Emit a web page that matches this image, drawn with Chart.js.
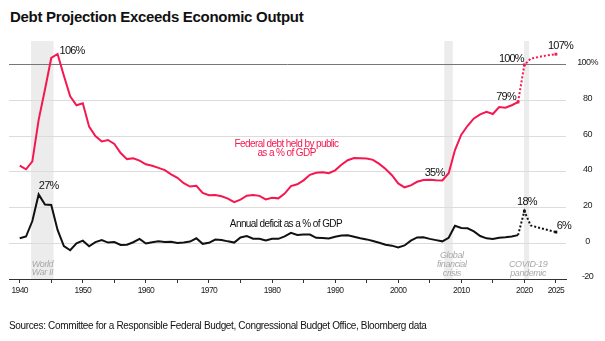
<!DOCTYPE html>
<html><head><meta charset="utf-8">
<script src="https://cdn.jsdelivr.net/npm/chart.js@4/dist/chart.umd.min.js"></script>
<style>
html,body{margin:0;padding:0;background:#fff;width:605px;height:341px;overflow:hidden;}
#wrap{position:relative;width:605px;height:341px;}
#c{position:absolute;left:0;top:0;width:605px;height:341px;}
.title{position:absolute;left:10px;top:9px;font:bold 15px 'Liberation Sans',Arial,sans-serif;line-height:15px;letter-spacing:-0.3px;color:#111;white-space:nowrap;}
.src{position:absolute;left:9px;top:321px;font:10px 'Liberation Sans',Arial,sans-serif;line-height:10px;letter-spacing:-0.35px;color:#111;white-space:nowrap;}
</style></head>
<body><div id="wrap">
<div class="title">Debt Projection Exceeds Economic Output</div>
<canvas id="c" width="605" height="341"></canvas>
<div class="src">Sources: Committee for a Responsible Federal Budget, Congressional Budget Office, Bloomberg data</div>
</div>
<script>
// ---- data ----
const years = [1940,1941,1942,1943,1944,1945,1946,1947,1948,1949,1950,1951,1952,1953,1954,1955,1956,1957,1958,1959,
1960,1961,1962,1963,1964,1965,1966,1967,1968,1969,1970,1971,1972,1973,1974,1975,1976,1977,1978,1979,
1980,1981,1982,1983,1984,1985,1986,1987,1988,1989,1990,1991,1992,1993,1994,1995,1996,1997,1998,1999,
2000,2001,2002,2003,2004,2005,2006,2007,2008,2009,2010,2011,2012,2013,2014,2015,2016,2017,2018,2019];
const debtActual = [43.6,41.5,45.9,69.2,86.2,103.9,106.1,93.9,82.4,77.4,78.5,65.4,60.1,57.1,57.9,55.7,50.6,47.2,47.7,46.4,
44.3,43.5,42.3,41.0,38.7,36.7,33.7,31.8,32.2,28.3,27.0,27.1,26.4,25.1,23.1,24.5,26.7,27.1,26.6,24.6,
25.5,25.2,27.9,32.1,33.1,35.3,38.4,39.5,39.8,39.3,40.9,44.0,46.6,47.8,47.7,47.5,46.8,44.5,41.6,38.2,
33.6,31.4,32.5,34.5,35.5,35.6,35.3,35.2,39.3,52.3,60.9,65.9,70.0,72.3,73.7,72.5,76.4,76.0,77.4,79.2];
const deficitActual = [2.8,3.8,12.5,27.4,21.7,21.5,7.5,-1.5,-3.9,0.0,1.5,-1.7,0.7,1.8,0.4,0.7,-0.9,-0.8,0.6,2.5,
-0.1,0.6,1.2,0.8,0.9,0.2,0.5,1.0,2.8,-0.3,0.3,2.1,1.9,1.1,0.4,3.3,4.1,2.6,2.6,1.6,
2.6,2.5,3.9,5.9,4.7,5.0,4.9,3.1,3.0,2.7,3.7,4.4,4.5,3.7,2.8,2.2,1.3,0.3,-0.8,-1.3,
-2.3,-1.2,1.5,3.3,3.4,2.5,1.8,1.1,3.1,9.8,8.6,8.4,6.7,4.1,2.8,2.4,3.1,3.4,3.8,4.6];
const debtProjYears = [2019,2020,2021,2023,2025];
const debtProj = [79.2,100,103.5,105,106];
const deficitProjYears = [2019,2020,2021,2025];
const deficitProj = [4.6,18,10,6.3];
const yTicks = [-20,0,20,40,60,80,100];
const xLabelYears = [1940,1950,1960,1970,1980,1990,2000,2010,2020,2025];
const bands = [[1941.8,1945.35],[2007.3,2008.65],[2019.95,2020.75]];

const RED = '#f5174f';
const FONT = "'Liberation Sans', Arial, sans-serif";
const pts = (xs, ys) => xs.map((x,i)=>({x, y: ys[i]}));

const textPlugin = {
  id: 'texts',
  beforeDraw(chart){
    const {ctx, chartArea:a, scales:{x}} = chart;
    ctx.save();
    ctx.fillStyle = '#ececec';
    bands.forEach(([s,e])=>{
      const x0 = x.getPixelForValue(s), x1 = x.getPixelForValue(e);
      ctx.fillRect(x0, a.top, x1-x0, a.bottom-a.top);
    });
    ctx.restore();
    ctx.letterSpacing = '-0.6px';
  },
  afterDatasetsDraw(chart){
    const {ctx, scales:{x,y}} = chart;
    const T = (txt, xv, yv, dx, dy, font, color, ls) => {
      ctx.save();
      ctx.font = font; ctx.fillStyle = color; ctx.letterSpacing = ls || '-0.6px';
      ctx.textAlign = 'center'; ctx.textBaseline = 'middle';
      ctx.fillText(txt, x.getPixelForValue(xv)+dx, y.getPixelForValue(yv)+dy);
      ctx.restore();
    };
    const num = '11px ' + FONT;
    T('106%', 1946, 106.1, 14.5, -3, num, '#111', '-0.8px');
    T('27%', 1943, 27.4, 10, -8, num, '#111', '-0.8px');
    T('35%', 2006, 35.3, -1.5, -7.5, num, '#111', '-0.8px');
    T('79%', 2019, 79.2, -12, -5, num, '#111', '-0.8px');
    T('100%', 2020, 100, -13, -6, num, '#111', '-0.8px');
    T('107%', 2025, 106, 4.6, -8, num, '#111', '-0.8px');
    T('18%', 2020, 18, 2.5, -9, num, '#111', '-0.8px');
    T('6%', 2025, 6.3, 8, -6, num, '#111', '-0.8px');
    const lab = '10px ' + FONT;
    T('Federal debt held by public', 1982.3, 55.7, 0, 0, lab, RED, '-0.6px');
    T('as a % of GDP', 1982.3, 55.7, 0, 9.5, lab, RED, '-0.6px');
    T('Annual deficit as a % of GDP', 1982.2, 10.8, 0, 0, lab, '#111', '-0.6px');
    const it = 'italic 9px ' + FONT;
    const g = '#a8a8a8';
    T('World', 1943.6, -11.8, 0, 0, it, g, '-0.4px');
    T('War II', 1943.6, -11.8, 0, 8.5, it, g, '-0.4px');
    T('Global', 2008.5, -7, 0, 0, it, g, '-0.4px');
    T('financial', 2008.5, -7, 0, 8.8, it, g, '-0.4px');
    T('crisis', 2008.5, -7, 0, 17.5, it, g, '-0.4px');
    T('COVID-19', 2020.6, -11.8, 0, 0, it, g, '-0.4px');
    T('pandemic', 2020.6, -11.8, 0, 8.7, it, g, '-0.4px');
  }
};

const markAt = (xs, marked) => xs.map(v => marked.includes(v) ? 2 : 0);

new Chart(document.getElementById('c'), {
  type: 'line',
  data: {
    datasets: [
      { data: pts(years, debtActual), borderColor: RED, borderWidth: 2, pointRadius: 0, tension: 0 },
      { data: pts(debtProjYears, debtProj), borderColor: RED, borderWidth: 2, borderDash: [2,2],
        pointRadius: markAt(debtProjYears,[2019,2020,2025]), pointBackgroundColor: RED, pointBorderWidth: 0, pointStyle: 'rect', tension: 0 },
      { data: pts(years, deficitActual), borderColor: '#111', borderWidth: 2, pointRadius: 0, tension: 0 },
      { data: pts(deficitProjYears, deficitProj), borderColor: '#111', borderWidth: 2, borderDash: [2,2],
        pointRadius: markAt(deficitProjYears,[2020,2025]), pointBackgroundColor: '#111', pointBorderWidth: 0, pointStyle: 'rect', tension: 0 }
    ]
  },
  options: {
    responsive: false, animation: false, devicePixelRatio: 1,
    layout: { padding: { left: 9, top: 41, right: 0, bottom: 42 } },
    plugins: { legend: { display: false }, tooltip: { enabled: false } },
    scales: {
      x: {
        type: 'linear', min: 1938.3, max: 2026.6,
        afterFit: s => { s.height = 20; },
        grid: { drawOnChartArea: false, drawTicks: true, tickLength: 4, color: '#333', lineWidth: 1 },
        border: { display: true, color: '#333', width: 1 },
        ticks: { stepSize: 5, includeBounds: false, autoSkip: false, maxRotation: 0, padding: 3,
          color: '#222', font: { family: FONT, size: 8.5 },
          callback: v => xLabelYears.includes(v) ? String(v) : '' }
      },
      y: {
        position: 'right', min: -20, max: 113.4,
        afterFit: s => { s.width = 39; },
        afterBuildTicks: s => { s.ticks = yTicks.map(v => ({ value: v })); },
        grid: { drawTicks: false, lineWidth: 1,
          color: c => c.tick.value === 100 ? '#777' : (c.tick.value === -20 ? 'rgba(0,0,0,0)' : '#dcdcdc') },
        border: { display: false },
        ticks: { padding: 10, crossAlign: 'center', labelOffset: -2, color: '#222',
          font: { family: FONT, size: 9 },
          callback: v => v === 100 ? '100%' : String(v) }
      }
    }
  },
  plugins: [textPlugin]
});
</script>
</body></html>
